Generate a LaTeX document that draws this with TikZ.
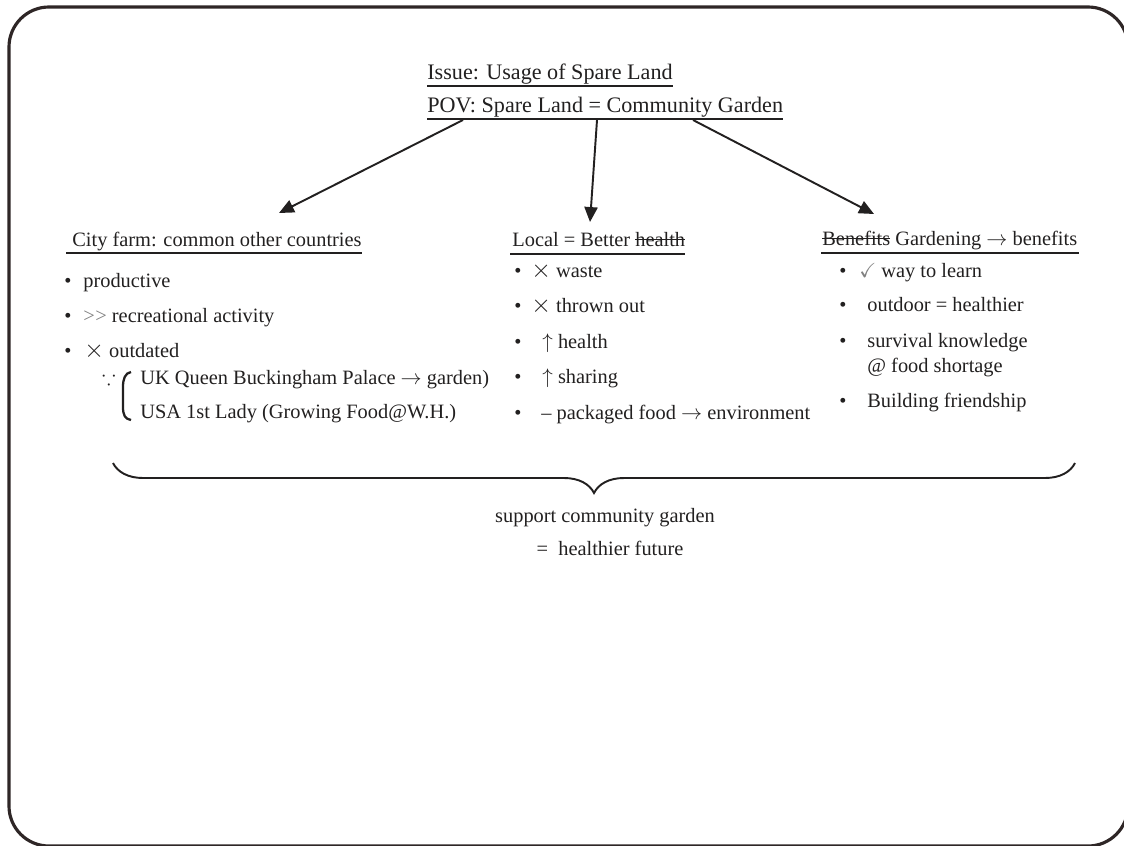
\documentclass[tikz,border=0pt]{standalone}
\usepackage{amssymb}
\usepackage{fontspec}
\setmainfont{Liberation Serif}
\usetikzlibrary{arrows.meta,calc,decorations.pathreplacing}
\definecolor{ink}{HTML}{222020}
\definecolor{frame}{HTML}{2E2626}
\newcommand{\strk}[1]{\setbox0\hbox{#1}\rlap{\rule[0.3em]{\wd0}{0.6pt}}\box0\relax}

\begin{document}
\begin{tikzpicture}[x=0.02cm,y=-0.02cm,
  txt/.style={inner sep=0pt,anchor=base west,text=ink,font=\fontsize{11.6}{14}\selectfont},
  bul/.style={txt,anchor=base},
  toptxt/.style={txt,font=\fontsize{12.6}{15}\selectfont},
  uline/.style={draw=ink,line width=1.1pt},
  arr/.style={draw=ink,line width=1.1pt,-{Triangle[length=8.5pt,width=7.5pt]}},
]
\useasboundingbox (0,0) rectangle (1124,845);

% frame
\draw[frame,line width=1.8pt,rounded corners=0.8cm] (9,7) rectangle (1128,846);

% issue and point of view
\node[toptxt] (issue) at (427,79) {Issue: Usage of Spare Land};
\node[toptxt] (pov) at (427,112) {POV: Spare Land = Community Garden};
\draw[uline] ($(issue.base west)+(0,7)$) -- ($(issue.base east)+(0,7)$);
\draw[uline] ($(pov.base west)+(0,7)$) -- ($(pov.base east)+(0,7)$);

\coordinate (s1) at (463,120);
\coordinate (s2) at (597,120);
\coordinate (s3) at (693,120);
\coordinate (e1) at (279,213);
\coordinate (e2) at (590,222);
\coordinate (e3) at (874,214);
\draw[arr] (s1) -- (e1);
\draw[arr] (s2) -- (e2);
\draw[arr] (s3) -- (e3);

% left column
\node[txt] (farm) at (72,246) {City farm: common other countries};
\draw[uline] ($(farm.base west)+(-6,7)$) -- ($(farm.base east)+(0,7)$);
\node[bul] (fb1) at (68,287) {\textbullet};
\node[txt] (f1) at (83,287) {productive};
\node[bul] (fb2) at (68,322) {\textbullet};
\node[txt] (f2) at (83,322) {{\color{gray}>\kern0.3pt>} recreational activity};
\node[bul] (fb3) at (68,357) {\textbullet};
\node[txt] (f3) at (84,357) {{\fontsize{15}{15}\selectfont$\times$} outdated};
\node[bul] (because) at (109,384) {$\because$};
\draw[ink,line width=1.3pt] (131,372) .. controls (125,373) and (123,379) .. (123,387)
  -- (123,407) .. controls (123,415) and (125,419) .. (131,420);
\node[txt] (uk) at (140,384) {UK Queen Buckingham Palace $\rightarrow$ garden)};
\node[txt] (usa) at (140,418) {USA 1st Lady (Growing Food@W.H.)};

% middle column
\node[txt] (local) at (512,246) {Local = Better \strk{health}};
\draw[uline] ($(local.base west)+(-2,8)$) -- ($(local.base east)+(0,8)$);
\node[bul] (lb1) at (518,277) {\textbullet};
\node[txt] (l1) at (531,277) {{\fontsize{15}{15}\selectfont$\times$} waste};
\node[bul] (lb2) at (518,312) {\textbullet};
\node[txt] (l2) at (531,312) {{\fontsize{15}{15}\selectfont$\times$} thrown out};
\node[bul] (lb3) at (518,348) {\textbullet};
\node[txt] (l3) at (542,348) {$\uparrow$ health};
\node[bul] (lb4) at (518,383) {\textbullet};
\node[txt] (l4) at (542,383) {$\uparrow$ sharing};
\node[bul] (lb5) at (518,419) {\textbullet};
\node[txt] (l5) at (541,419) {\textendash\ packaged food $\rightarrow$ environment};

% right column
\node[txt] (gain) at (822,245) {\strk{Benefits} Gardening $\rightarrow$ benefits};
\draw[uline] ($(gain.base west)+(-1,8)$) -- ($(gain.base east)+(1,8)$);
\node[bul] (gb1) at (843,277) {\textbullet};
\node[txt] (g1) at (859,277) {{\color{gray}$\checkmark$} way to learn};
\node[bul] (gb2) at (843,311) {\textbullet};
\node[txt] (g2) at (867,311) {outdoor = healthier};
\node[bul] (gb3) at (843,347) {\textbullet};
\node[txt] (g3) at (867,347) {survival knowledge};
\node[txt] (g4) at (867,372) {@ food shortage};
\node[bul] (gb4) at (843,407) {\textbullet};
\node[txt] (g5) at (867,407) {Building friendship};

% conclusion
\coordinate (bl) at (113,463);
\coordinate (br) at (1075,463);
\draw[ink,line width=1.1pt,decorate,decoration={brace,mirror,amplitude=0.6cm}] (bl) -- (br);
\node[bul] (sum1) at (605,522) {support community garden};
\node[bul] (sum2) at (610,555) {=\hspace{0.5em}healthier future};

\end{tikzpicture}
\end{document}
